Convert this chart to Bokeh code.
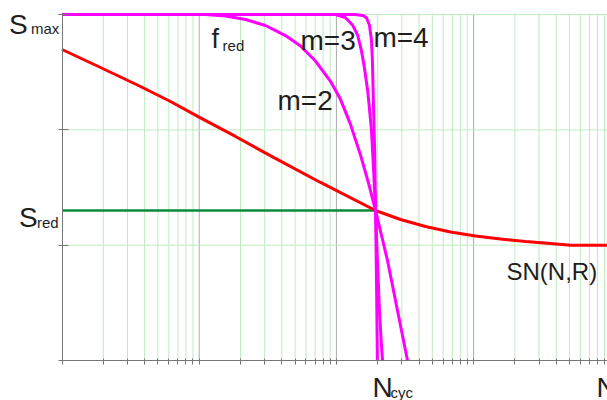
from bokeh.plotting import figure
from bokeh.models import FixedTicker, Label, Range1d
from bokeh.embed import file_html
from bokeh.resources import INLINE

# Stress level (y) and reference cycle counts (x)
S_max = 3.0
S_red = 1.30
N_cyc = 193
N_end = 10 ** 3.976

# S-N curve SN(N,R)
sn_N = [1, 1.909, 3.734, 6.177, 10.05, 18.39, 34.79, 76.6, 192.8, 293.3, 446.1,
        678.6, 1032, 1570, 2389, 3635, 5085, 9462]
sn_S = [2.697, 2.541, 2.376, 2.246, 2.108, 1.943, 1.761, 1.544, 1.301, 1.223, 1.162,
        1.115, 1.080, 1.054, 1.032, 1.015, 1.0, 1.0]

# Reduction functions f_red for exponents m = 2, 3, 4
m2_N = [1, 11.12, 15.55, 21.76, 30.42, 42.56, 54.73, 70.42, 90.58, 107.1, 126.7,
        150.1, 171.7, 192.8, 235.8, 278.8, 329.8]
m2_S = [3.0, 3.0, 2.988, 2.957, 2.905, 2.818, 2.727, 2.597, 2.421, 2.265, 2.048,
        1.779, 1.536, 1.301, 0.867, 0.434, 0.0]

m3_N = [1, 98.5, 116, 131, 143, 152, 160, 169, 174, 180, 186, 193, 199, 206, 213, 217]
m3_S = [3.0, 3.0, 2.975, 2.91, 2.82, 2.69, 2.54, 2.34, 2.19, 2.0, 1.69, 1.30, 0.87, 0.43, 0.13, 0.0]

m4_N = [1, 138, 158, 166, 174, 180, 183, 186, 190, 193, 196, 199]
m4_S = [3.0, 3.0, 2.99, 2.97, 2.91, 2.78, 2.60, 2.25, 1.82, 1.30, 0.69, 0.0]

# ticks and grid positions
x_major = [1, 10, 100, 1000]
x_minor = [k * 10 ** d for d in range(4) for k in range(2, 10)]
y_ticks = [0, 1, 2, 3]
y_grid = [1, 2, 3]

FONT = "Liberation Sans"
INK = "#1e1e1e"
GRID_GREEN = "#bdecbd"
DECADE_GREY = "#ababab"
AXIS_GREY = "#777777"

# the frame fills the whole canvas; axes sit at N = 1 and S = 0
p = figure(width=607, height=400, x_axis_type="log",
           x_range=Range1d(0.3562, N_end), y_range=Range1d(-0.347, 3.122),
           output_backend="svg", toolbar_location=None,
           min_border=0)
p.outline_line_color = None
p.background_fill_color = "white"
p.border_fill_color = "white"
p.xgrid.visible = False
p.ygrid.visible = False

p.xaxis.ticker = FixedTicker(ticks=x_major, minor_ticks=x_minor)
p.yaxis.ticker = FixedTicker(ticks=y_ticks)
p.xaxis.fixed_location = 0
p.yaxis.fixed_location = 1
p.xaxis.bounds = (1, N_end)
p.yaxis.bounds = (0, S_max)

for ax in (p.xaxis, p.yaxis):
    ax.axis_line_color = AXIS_GREY
    ax.major_tick_line_color = AXIS_GREY
    ax.minor_tick_line_color = AXIS_GREY
    ax.major_label_text_color = None
    ax.major_tick_out = 4
p.xaxis.major_tick_in = 2
p.xaxis.minor_tick_in = 2
p.xaxis.minor_tick_out = 4
p.yaxis.major_tick_in = 6
p.yaxis.minor_tick_line_color = None

# grid lines over the plotting area
p.segment(x0=x_minor, y0=0, x1=x_minor, y1=S_max, line_color=GRID_GREEN, line_width=1)
p.segment(x0=x_major[1:], y0=0, x1=x_major[1:], y1=S_max, line_color=DECADE_GREY, line_width=1)
p.segment(x0=1, y0=y_grid, x1=N_end, y1=y_grid, line_color=GRID_GREEN, line_width=1)

# reduced stress level up to the cycle count
p.line([1, N_cyc], [S_red, S_red], line_color="#0b8a3c", line_width=2.5)
# S-N curve
p.line(sn_N, sn_S, line_color="#ff0000", line_width=3)
# reduction curves
for xs, ys in ((m2_N, m2_S), (m3_N, m3_S), (m4_N, m4_S)):
    p.line(xs, ys, line_color="#ff00ff", line_width=3)


def add_text(x, y, text, size, dx=0, dy=0):
    p.add_layout(Label(x=x, y=y, text=text, x_offset=dx, y_offset=dy,
                       text_font=FONT, text_font_size=size, text_color=INK,
                       text_align="left", text_baseline="alphabetic"))


# axis annotations
add_text(1, S_max, "S", "28px", -53, -10)
add_text(1, S_max, "max", "15px", -31, -14)
add_text(1, S_red, "S", "28px", -43, -7)
add_text(1, S_red, "red", "15px", -25, -12)
add_text(N_cyc, 0, "N", "28px", -3, -27)
add_text(N_cyc, 0, "cyc", "15px", 15, -32)
add_text(N_end, 0, "N", "28px", -11, -27)

# curve annotations
add_text(12.3, 2.79, "f", "27px")
add_text(14.8, 2.73, "red", "15px")
add_text(54.7, 2.775, "m=3", "28px")
add_text(186, 2.80, "m=4", "28px")
add_text(37.2, 2.255, "m=2", "28px")
add_text(1738, 0.772, "SN(N,R)", "24px")

open("out.html", "w").write(file_html(p, INLINE))
